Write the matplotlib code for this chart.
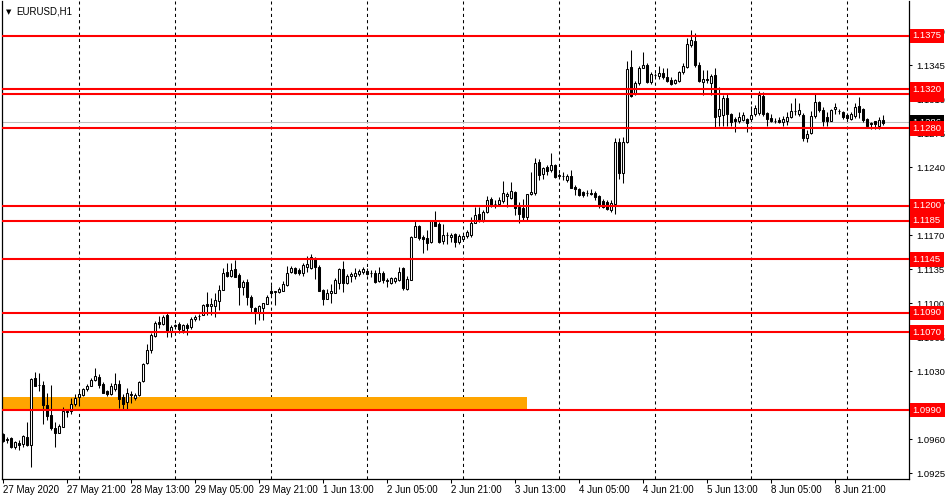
import matplotlib
matplotlib.use("Agg")
import numpy as np
import matplotlib.pyplot as plt

plt.rcParams["font.family"] = ["Liberation Sans", "DejaVu Sans"]

# EURUSD H1 candles, 27 May 2020 05:00 .. 9 Jun 2020 09:00
opens = [
    1.0965, 1.0959, 1.0961, 1.0952, 1.0956, 1.0955, 1.0962, 1.0954, 1.1023, 1.1016,
    1.1016, 1.0995, 1.0985, 1.0972, 1.0966, 1.0973, 1.0989, 1.0989, 1.0996, 1.1003,
    1.1005, 1.1012, 1.1015, 1.1021, 1.1024, 1.1017, 1.1010, 1.1007, 1.1012, 1.1017,
    1.1003, 1.0998, 1.1007, 1.1002, 1.1005, 1.1020, 1.1038, 1.1052, 1.1066, 1.1081,
    1.1079, 1.1088, 1.1070, 1.1076, 1.1079, 1.1072, 1.1077, 1.1075, 1.1084, 1.1087,
    1.1088, 1.1099, 1.1097, 1.1097, 1.1102, 1.1114, 1.1132, 1.1128, 1.1135, 1.1129,
    1.1117, 1.1122, 1.1106, 1.1095, 1.1090, 1.1095, 1.1099, 1.1113, 1.1111, 1.1111,
    1.1113, 1.1119, 1.1132, 1.1136, 1.1134, 1.1131, 1.1137, 1.1136, 1.1146, 1.1137,
    1.1114, 1.1104, 1.1110, 1.1110, 1.1121, 1.1135, 1.1121, 1.1128, 1.1128, 1.1130,
    1.1132, 1.1133, 1.1131, 1.1131, 1.1123, 1.1131, 1.1123, 1.1121, 1.1123, 1.1124,
    1.1136, 1.1115, 1.1124, 1.1168, 1.1179, 1.1168, 1.1167, 1.1163, 1.1185, 1.1181,
    1.1164, 1.1170, 1.1168, 1.1171, 1.1163, 1.1166, 1.1169, 1.1170, 1.1183, 1.1192,
    1.1185, 1.1194, 1.1207, 1.1202, 1.1202, 1.1205, 1.1210, 1.1208, 1.1214, 1.1199,
    1.1198, 1.1189, 1.1212, 1.1213, 1.1245, 1.1233, 1.1240, 1.1237, 1.1242, 1.1231,
    1.1231, 1.1227, 1.1231, 1.1220, 1.1218, 1.1214, 1.1213, 1.1213, 1.1213, 1.1210,
    1.1205, 1.1204, 1.1196, 1.1202, 1.1266, 1.1234, 1.1266, 1.1343, 1.1315, 1.1327,
    1.1342, 1.1345, 1.1328, 1.1335, 1.1334, 1.1337, 1.1333, 1.1330, 1.1327, 1.1329,
    1.1338, 1.1343, 1.1366, 1.1370, 1.1345, 1.1328, 1.1331, 1.1327, 1.1335, 1.1293,
    1.1294, 1.1311, 1.1295, 1.1290, 1.1288, 1.1289, 1.1290, 1.1290, 1.1295, 1.1296,
    1.1313, 1.1296, 1.1291, 1.1288, 1.1289, 1.1286, 1.1288, 1.1292, 1.1298, 1.1295,
    1.1294, 1.1270, 1.1275, 1.1293, 1.1307, 1.1299, 1.1292, 1.1288, 1.1300, 1.1298,
    1.1297, 1.1294, 1.1290, 1.1293, 1.1303, 1.1300, 1.1290, 1.1285, 1.1287, 1.1282,
    1.1288,
]
highs = [
    1.0966, 1.0962, 1.0962, 1.0958, 1.0959, 1.0964, 1.0978, 1.1023, 1.1029, 1.1028,
    1.1020, 1.1008, 1.1016, 1.0978, 1.0976, 1.0993, 1.0991, 1.1002, 1.1007, 1.1011,
    1.1013, 1.1017, 1.1023, 1.1033, 1.1027, 1.1019, 1.1011, 1.1018, 1.1028, 1.1021,
    1.1007, 1.1013, 1.1010, 1.1008, 1.1020, 1.1038, 1.1058, 1.1069, 1.1082, 1.1087,
    1.1088, 1.1091, 1.1077, 1.1079, 1.1081, 1.1079, 1.1080, 1.1086, 1.1088, 1.1089,
    1.1099, 1.1111, 1.1105, 1.1110, 1.1119, 1.1136, 1.1141, 1.1141, 1.1144, 1.1131,
    1.1124, 1.1125, 1.1108, 1.1096, 1.1098, 1.1100, 1.1108, 1.1119, 1.1113, 1.1117,
    1.1123, 1.1138, 1.1138, 1.1137, 1.1136, 1.1141, 1.1149, 1.1151, 1.1148, 1.1139,
    1.1115, 1.1115, 1.1120, 1.1126, 1.1136, 1.1143, 1.1130, 1.1132, 1.1136, 1.1135,
    1.1137, 1.1136, 1.1134, 1.1134, 1.1137, 1.1133, 1.1126, 1.1127, 1.1127, 1.1137,
    1.1137, 1.1128, 1.1169, 1.1185, 1.1180, 1.1170, 1.1175, 1.1186, 1.1195, 1.1184,
    1.1181, 1.1173, 1.1172, 1.1172, 1.1171, 1.1170, 1.1175, 1.1189, 1.1199, 1.1199,
    1.1196, 1.1210, 1.1209, 1.1206, 1.1209, 1.1226, 1.1214, 1.1225, 1.1215, 1.1204,
    1.1207, 1.1212, 1.1235, 1.1249, 1.1248, 1.1240, 1.1242, 1.1255, 1.1243, 1.1234,
    1.1235, 1.1233, 1.1237, 1.1222, 1.1219, 1.1215, 1.1216, 1.1218, 1.1215, 1.1211,
    1.1207, 1.1206, 1.1206, 1.1270, 1.1270, 1.1271, 1.1349, 1.1361, 1.1329, 1.1344,
    1.1359, 1.1347, 1.1338, 1.1337, 1.1344, 1.1342, 1.1342, 1.1333, 1.1331, 1.1339,
    1.1347, 1.1373, 1.1381, 1.1378, 1.1348, 1.1340, 1.1340, 1.1336, 1.1342, 1.1322,
    1.1314, 1.1316, 1.1296, 1.1292, 1.1297, 1.1297, 1.1291, 1.1303, 1.1304, 1.1318,
    1.1317, 1.1297, 1.1295, 1.1291, 1.1292, 1.1293, 1.1297, 1.1306, 1.1311, 1.1306,
    1.1296, 1.1278, 1.1298, 1.1316, 1.1308, 1.1302, 1.1297, 1.1300, 1.1306, 1.1300,
    1.1298, 1.1296, 1.1297, 1.1306, 1.1312, 1.1301, 1.1291, 1.1286, 1.1288, 1.1292,
    1.1294,
]
lows = [
    1.0957, 1.0956, 1.0951, 1.0950, 1.0949, 1.0952, 1.0953, 1.0931, 1.1015, 1.1010,
    1.0976, 1.0980, 1.0969, 1.0952, 1.0966, 1.0973, 1.0983, 1.0986, 1.0994, 1.0994,
    1.1004, 1.1010, 1.1015, 1.1020, 1.1013, 1.1008, 1.1004, 1.1005, 1.1010, 1.0992,
    1.0990, 1.0990, 1.0997, 1.1000, 1.1004, 1.1019, 1.1037, 1.1049, 1.1065, 1.1074,
    1.1078, 1.1065, 1.1065, 1.1074, 1.1069, 1.1069, 1.1067, 1.1073, 1.1082, 1.1083,
    1.1088, 1.1088, 1.1088, 1.1086, 1.1093, 1.1114, 1.1127, 1.1127, 1.1127, 1.1098,
    1.1108, 1.1098, 1.1091, 1.1079, 1.1083, 1.1083, 1.1099, 1.1108, 1.1098, 1.1110,
    1.1113, 1.1118, 1.1131, 1.1130, 1.1129, 1.1128, 1.1132, 1.1135, 1.1125, 1.1112,
    1.1098, 1.1104, 1.1100, 1.1110, 1.1115, 1.1111, 1.1120, 1.1122, 1.1125, 1.1128,
    1.1130, 1.1129, 1.1127, 1.1121, 1.1122, 1.1121, 1.1117, 1.1120, 1.1121, 1.1123,
    1.1114, 1.1114, 1.1124, 1.1168, 1.1165, 1.1152, 1.1155, 1.1162, 1.1179, 1.1162,
    1.1161, 1.1161, 1.1163, 1.1158, 1.1161, 1.1165, 1.1167, 1.1168, 1.1182, 1.1184,
    1.1184, 1.1193, 1.1199, 1.1198, 1.1201, 1.1203, 1.1199, 1.1207, 1.1191, 1.1182,
    1.1186, 1.1186, 1.1211, 1.1211, 1.1227, 1.1228, 1.1232, 1.1235, 1.1229, 1.1229,
    1.1227, 1.1225, 1.1219, 1.1211, 1.1210, 1.1209, 1.1210, 1.1211, 1.1206, 1.1198,
    1.1198, 1.1196, 1.1194, 1.1192, 1.1228, 1.1224, 1.1265, 1.1312, 1.1314, 1.1325,
    1.1342, 1.1327, 1.1326, 1.1333, 1.1331, 1.1331, 1.1328, 1.1325, 1.1326, 1.1328,
    1.1336, 1.1342, 1.1364, 1.1343, 1.1328, 1.1314, 1.1327, 1.1314, 1.1280, 1.1282,
    1.1282, 1.1282, 1.1282, 1.1276, 1.1285, 1.1288, 1.1276, 1.1287, 1.1293, 1.1294,
    1.1293, 1.1282, 1.1286, 1.1285, 1.1285, 1.1282, 1.1283, 1.1291, 1.1294, 1.1293,
    1.1267, 1.1266, 1.1274, 1.1291, 1.1297, 1.1282, 1.1282, 1.1287, 1.1295, 1.1295,
    1.1290, 1.1287, 1.1289, 1.1291, 1.1291, 1.1286, 1.1282, 1.1279, 1.1279, 1.1279,
    1.1283,
]
closes = [
    1.0958, 1.0960, 1.0952, 1.0957, 1.0954, 1.0963, 1.0954, 1.1022, 1.1015, 1.1016,
    1.0995, 1.0984, 1.0971, 1.0966, 1.0974, 1.0989, 1.0988, 1.0996, 1.1002, 1.1007,
    1.1012, 1.1015, 1.1021, 1.1025, 1.1016, 1.1008, 1.1007, 1.1015, 1.1017, 1.1001,
    1.0996, 1.1008, 1.1005, 1.1005, 1.1019, 1.1037, 1.1052, 1.1067, 1.1080, 1.1079,
    1.1086, 1.1070, 1.1075, 1.1077, 1.1073, 1.1077, 1.1074, 1.1084, 1.1086, 1.1087,
    1.1098, 1.1097, 1.1099, 1.1103, 1.1114, 1.1131, 1.1128, 1.1134, 1.1127, 1.1117,
    1.1122, 1.1106, 1.1096, 1.1090, 1.1097, 1.1100, 1.1106, 1.1110, 1.1112, 1.1115,
    1.1120, 1.1131, 1.1136, 1.1131, 1.1131, 1.1139, 1.1140, 1.1147, 1.1137, 1.1113,
    1.1104, 1.1110, 1.1112, 1.1124, 1.1135, 1.1121, 1.1128, 1.1130, 1.1131, 1.1133,
    1.1135, 1.1130, 1.1131, 1.1122, 1.1131, 1.1124, 1.1124, 1.1126, 1.1126, 1.1132,
    1.1116, 1.1125, 1.1168, 1.1179, 1.1167, 1.1166, 1.1162, 1.1185, 1.1179, 1.1163,
    1.1170, 1.1170, 1.1170, 1.1163, 1.1169, 1.1169, 1.1173, 1.1183, 1.1191, 1.1185,
    1.1194, 1.1206, 1.1201, 1.1202, 1.1206, 1.1213, 1.1212, 1.1215, 1.1198, 1.1192,
    1.1189, 1.1212, 1.1214, 1.1244, 1.1232, 1.1239, 1.1236, 1.1242, 1.1230, 1.1232,
    1.1231, 1.1231, 1.1219, 1.1217, 1.1211, 1.1211, 1.1213, 1.1212, 1.1209, 1.1200,
    1.1199, 1.1197, 1.1203, 1.1266, 1.1234, 1.1266, 1.1341, 1.1313, 1.1327, 1.1342,
    1.1345, 1.1328, 1.1336, 1.1335, 1.1337, 1.1333, 1.1329, 1.1326, 1.1330, 1.1338,
    1.1344, 1.1367, 1.1371, 1.1345, 1.1329, 1.1331, 1.1330, 1.1334, 1.1292, 1.1300,
    1.1311, 1.1295, 1.1286, 1.1287, 1.1292, 1.1294, 1.1285, 1.1294, 1.1301, 1.1314,
    1.1295, 1.1290, 1.1287, 1.1288, 1.1286, 1.1290, 1.1292, 1.1298, 1.1298, 1.1299,
    1.1270, 1.1274, 1.1293, 1.1307, 1.1299, 1.1288, 1.1288, 1.1299, 1.1302, 1.1298,
    1.1292, 1.1291, 1.1295, 1.1302, 1.1297, 1.1289, 1.1282, 1.1284, 1.1284, 1.1289,
    1.1285,
]

# one label every 16 bars
time_labels = [
    "27 May 2020", "27 May 21:00", "28 May 13:00", "29 May 05:00", "29 May 21:00",
    "1 Jun 13:00", "2 Jun 05:00", "2 Jun 21:00", "3 Jun 13:00", "4 Jun 05:00",
    "4 Jun 21:00", "5 Jun 13:00", "8 Jun 05:00", "8 Jun 21:00",
]
day_starts = [19, 43, 67, 91, 115, 139, 163, 187, 211]

levels = [1.1375, 1.1315, 1.1320, 1.1280, 1.1200, 1.1185, 1.1145, 1.1090, 1.1070, 1.0990]
bid = 1.1286
zone_low, zone_high, zone_end = 1.0990, 1.1003, 131

n = len(closes)
x = np.arange(n)
o = np.array(opens)
c = np.array(closes)
up = c >= o

fig = plt.figure(figsize=(9.5, 5), dpi=100)
ax = fig.add_axes([2 / 950, 21 / 500, 907 / 950, 478 / 500])
ax.set_xlim(-0.25, 226.5)
ax.set_ylim(1.0919, 1.1411)

# orange zone
ax.fill_between([-1, zone_end], zone_low, zone_high, color="#FFA500", lw=0, zorder=1)

for d in day_starts:
    ax.axvline(d, color="black", lw=0.75, ls=(0, (3, 3)), zorder=0.5)

ax.axhline(bid, color="#C0C0C0", lw=0.75, zorder=1.2)

# candles
ax.vlines(x, lows, highs, color="black", lw=0.75, zorder=2)
bottoms = np.minimum(o, c)
heights = np.abs(c - o)
ax.bar(x, heights, 0.5, bottom=bottoms, color=np.where(up, "white", "black"),
       edgecolor="black", linewidth=0.75, zorder=3)

for lv in levels:
    ax.axhline(lv, color="#FF0000", lw=1.5, zorder=4)

# price axis on the right
ax.yaxis.tick_right()
yt = np.round(np.arange(1.0925, 1.1400, 0.0035), 4)
ax.set_yticks(yt)
ax.set_yticklabels(["%.4f" % v for v in yt])
ax.tick_params(axis="y", length=2.5, width=0.75, pad=2.5, labelsize=6.8)
ax.set_xticks(np.arange(0, n, 16))
ax.set_xticklabels(time_labels, ha="left")
ax.tick_params(axis="x", length=3, width=0.75, pad=1.5, labelsize=7)
ax.spines["top"].set_visible(False)
for s in ["left", "right", "bottom"]:
    ax.spines[s].set_linewidth(0.9)

ax.annotate("%.4f" % bid, xy=(1, bid), xycoords=("axes fraction", "data"),
            xytext=(2.6, 0), textcoords="offset points", ha="left", va="center",
            color="white", fontsize=6.8, annotation_clip=False,
            bbox=dict(boxstyle="square,pad=0.3", fc="black", ec="none"))
for lv in levels:
    ax.annotate("%.4f" % lv, xy=(1, lv), xycoords=("axes fraction", "data"),
                xytext=(2.6, 0), textcoords="offset points", ha="left", va="center",
                color="white", fontsize=6.8, annotation_clip=False,
                bbox=dict(boxstyle="square,pad=0.3", fc="#FF0000", ec="none"))

ax.text(0.004, 0.977, "\u25bc", transform=ax.transAxes, fontsize=5,
        va="center", family="DejaVu Sans")
ax.text(0.016, 0.977, "EURUSD,H1", transform=ax.transAxes, fontsize=7, va="center")

fig.savefig("out.png", dpi=100)
